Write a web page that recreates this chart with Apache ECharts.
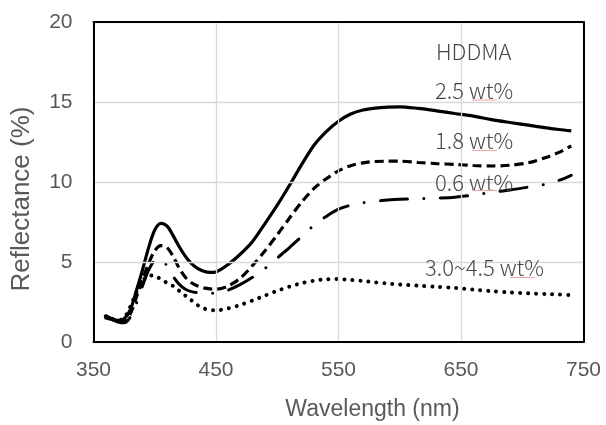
<!DOCTYPE html>
<html>
<head>
<meta charset="utf-8">
<script src="https://cdn.jsdelivr.net/npm/echarts@6/dist/echarts.min.js"></script>
<style>
html,body{margin:0;padding:0;background:#fff;}
#c{width:606px;height:425px;}
</style>
</head>
<body>
<div id="c"></div>
<script>
const wavelength = [360,365,370,375,380,385,390,395,400,405,410,415,420,425,430,435,440,445,450,460,470,480,490,500,510,520,530,540,550,560,570,580,590,600,615,630,645,660,675,690,705,720,730,740];
const wt25 = [1.6,1.45,1.35,1.45,2.0,3.2,4.5,5.9,7.0,7.42,7.25,6.65,5.95,5.35,4.9,4.6,4.42,4.35,4.38,4.85,5.5,6.3,7.4,8.55,9.8,11.1,12.3,13.15,13.8,14.25,14.5,14.62,14.68,14.7,14.6,14.45,14.28,14.12,13.9,13.72,13.55,13.38,13.28,13.2];
const wt18 = [1.65,1.45,1.3,1.3,1.75,2.8,3.9,4.9,5.7,6.02,5.9,5.35,4.6,4.05,3.7,3.5,3.38,3.32,3.3,3.5,4.0,4.8,5.7,6.7,7.75,8.75,9.6,10.2,10.7,11.02,11.2,11.28,11.3,11.3,11.22,11.15,11.1,11.03,11.0,11.05,11.2,11.55,11.85,12.25];
const wt06 = [1.5,1.4,1.25,1.2,1.55,2.4,3.5,4.5,5.1,5.2,4.75,4.1,3.6,3.3,3.15,3.08,3.05,3.04,3.05,3.25,3.6,4.05,4.6,5.25,5.9,6.6,7.3,7.85,8.3,8.55,8.7,8.8,8.87,8.92,8.95,8.99,9.05,9.18,9.35,9.5,9.68,9.88,10.1,10.42];
const wt30_45 = [1.6,1.45,1.35,1.5,2.2,3.1,3.8,4.15,4.15,3.9,3.7,3.5,3.2,2.9,2.6,2.3,2.1,2.0,1.98,2.1,2.32,2.6,2.9,3.2,3.46,3.68,3.83,3.92,3.93,3.88,3.81,3.73,3.66,3.59,3.52,3.45,3.38,3.27,3.18,3.1,3.04,3.0,2.97,2.93];
const xTicks = [350,450,550,650,750];
const yTicks = [0,5,10,15,20];
const seriesNames = ['2.5 wt%','1.8 wt%','0.6 wt%','3.0~4.5 wt%'];
const xTitle = 'Wavelength (nm)';
const yTitle = 'Reflectance (%)';

const pair = ys => wavelength.map((x,i)=>[x, ys[i]]);
const chart = echarts.init(document.getElementById('c'), null, {renderer:'canvas'});

const labelFont = {fontFamily:'"Liberation Sans", Arial, sans-serif', fontSize:21, color:'#595959'};
const annFont = '300 22px "Noto Sans CJK JP", "Noto Sans", sans-serif';
const border = {show:true, onZero:false, lineStyle:{color:'#000', width:2}};

function ann(text, x, y){
  return {type:'text', x:x, y:y, z:100, style:{text:text, font:annFont, fill:'#474747', align:'left', verticalAlign:'middle'}};
}
function squiggle(x1, x2, y){
  return {type:'line', z:100, shape:{x1:x1, y1:y, x2:x2, y2:y}, style:{stroke:'#f2a4a4', lineWidth:1}};
}
const xBase = {type:'value', min:xTicks[0], max:xTicks[xTicks.length-1], interval:100, axisTick:{show:false}};
const yBase = {type:'value', min:yTicks[0], max:yTicks[yTicks.length-1], interval:5, axisTick:{show:false}};

chart.setOption({
  animation:false,
  backgroundColor:'#fff',
  grid:{left:93.5, right:22.5, top:22, bottom:83, containLabel:false},
  xAxis:[
    Object.assign({}, xBase, {position:'bottom', axisLine:border, z:10,
      axisLabel:Object.assign({margin:18}, labelFont),
      splitLine:{show:true, lineStyle:{color:'#d9d9d9', width:1.3}}}),
    Object.assign({}, xBase, {position:'top', axisLine:border, z:10, axisLabel:{show:false}, splitLine:{show:false}})
  ],
  yAxis:[
    Object.assign({}, yBase, {position:'left', axisLine:border, z:10,
      axisLabel:Object.assign({margin:21}, labelFont),
      splitLine:{show:true, lineStyle:{color:'#d9d9d9', width:1.3}}}),
    Object.assign({}, yBase, {position:'right', axisLine:border, z:10, axisLabel:{show:false}, splitLine:{show:false}})
  ],
  series:[
    {name:seriesNames[0], type:'line', data:pair(wt25), showSymbol:false, smooth:0.3, z:5,
      lineStyle:{color:'#000', width:3.2, type:'solid'}},
    {name:seriesNames[1], type:'line', data:pair(wt18), showSymbol:false, smooth:0.3, z:4,
      lineStyle:{color:'#000', width:3.2, type:[9,5], cap:'butt'}},
    {name:seriesNames[2], type:'line', data:pair(wt06), showSymbol:false, smooth:0.3, z:3,
      lineStyle:{color:'#000', width:3, type:[27,16.5,0.01,16.5], cap:'round'}},
    {name:seriesNames[3], type:'line', data:pair(wt30_45), showSymbol:false, smooth:0.3, z:2,
      lineStyle:{color:'#000', width:4, type:[0.01,8], cap:'round'}}
  ],
  graphic:[
    ann('HDDMA', 436, 51.5),
    ann(seriesNames[0], 435, 90.5),
    ann(seriesNames[1], 435, 141),
    ann(seriesNames[2], 435, 182.5),
    ann(seriesNames[3], 425, 268),
    squiggle(472, 497, 100),
    squiggle(472, 497, 150.5),
    squiggle(472, 497, 190.5),
    squiggle(510, 535, 277.5),
    {type:'text', x:372.5, y:410, style:{text:xTitle, font:'23px "Liberation Sans", Arial, sans-serif', fill:'#595959', align:'center', verticalAlign:'middle'}},
    {type:'text', x:21.5, y:199, rotation:Math.PI/2, style:{text:yTitle, font:'26px "Liberation Sans", Arial, sans-serif', fill:'#595959', align:'center', verticalAlign:'middle'}}
  ]
});
</script>
</body>
</html>
